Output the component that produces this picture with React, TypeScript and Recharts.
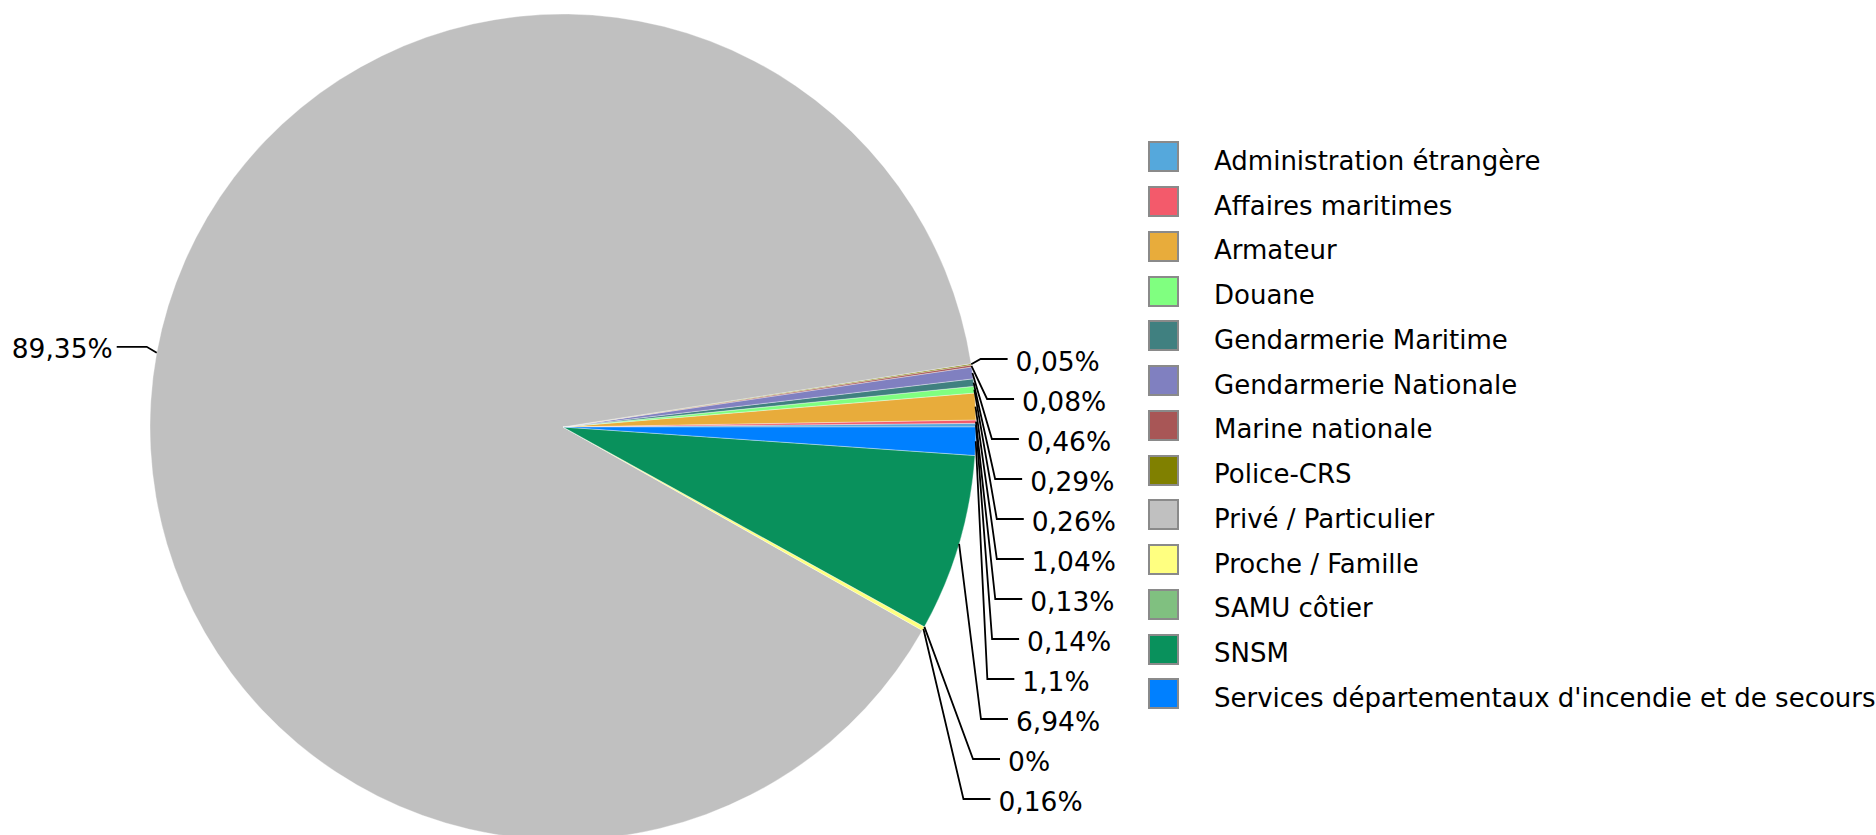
import React from 'react';
import { PieChart, Pie, Cell, Legend } from 'recharts';

const categories: string[] = [
  'Administration étrangère',
  'Affaires maritimes',
  'Armateur',
  'Douane',
  'Gendarmerie Maritime',
  'Gendarmerie Nationale',
  'Marine nationale',
  'Police-CRS',
  'Privé / Particulier',
  'Proche / Famille',
  'SAMU côtier',
  'SNSM',
  "Services départementaux d'incendie et de secours",
];

const shares: number[] = [0.14, 0.13, 1.04, 0.26, 0.29, 0.46, 0.08, 0.05, 89.35, 0.16, 0, 6.94, 1.1];

const colors: string[] = [
  '#55A8DC',
  '#F35A6B',
  '#E8AC3B',
  '#80FF80',
  '#408080',
  '#8080C0',
  '#A85656',
  '#808000',
  '#C0C0C0',
  '#FFFF80',
  '#80C080',
  '#09915C',
  '#0080FF',
];

const data = categories.map((name, i) => ({ name, value: shares[i] }));

const FONT = '"DejaVu Sans", Verdana, sans-serif';
const CX = 563;
const CY = 427;
const R = 413;
const LABEL_TOP = 359;
const LABEL_STEP = 40;
const RAD = Math.PI / 180;

// compute label rows for right-side slices (sorted top to bottom)
const total = shares.reduce((a, b) => a + b, 0);
const mids: number[] = [];
{
  let acc = 0;
  shares.forEach((v) => {
    const start = (acc / total) * 360;
    acc += v;
    const end = (acc / total) * 360;
    mids.push((start + end) / 2);
  });
}
const rightIdx = mids
  .map((m, i) => ({ i, m }))
  .filter((o) => Math.cos(o.m * RAD) > 0)
  .sort((a, b) => Math.sin(b.m * RAD) - Math.sin(a.m * RAD))
  .map((o) => o.i);
const rowOf: Record<number, number> = {};
rightIdx.forEach((idx, row) => {
  rowOf[idx] = row;
});

const fmt = (v: number) => `${String(v).replace('.', ',')}%`;

const renderLabel = (props: any) => {
  const { cx, cy, midAngle, outerRadius, index, value } = props;
  const ax = cx + outerRadius * Math.cos(-midAngle * RAD);
  const ay = cy + outerRadius * Math.sin(-midAngle * RAD);
  const text = fmt(value);
  if (rowOf[index] === undefined) {
    const ex = ax - 10;
    const ey = ay - 6;
    const lx = ax - 40;
    return (
      <g key={`l-${index}`}>
        <polyline points={`${ax},${ay} ${ex},${ey} ${lx},${ey}`} fill="none" stroke="#000" strokeWidth={1.8} />
        <text x={lx - 4} y={ey + 2} textAnchor="end" dominantBaseline="central" fontFamily={FONT} fontSize={26.5} fill="#000">
          {text}
        </text>
      </g>
    );
  }
  const row = rowOf[index];
  const ly = LABEL_TOP + row * LABEL_STEP;
  const ex = cx + outerRadius + 21 - 0.0005 * Math.pow(ly - (cy + 113), 2);
  const lx = ex + 27;
  return (
    <g key={`l-${index}`}>
      <polyline points={`${ax},${ay} ${ex},${ly} ${lx},${ly}`} fill="none" stroke="#000" strokeWidth={1.8} />
      <text x={lx + 8} y={ly + 2} textAnchor="start" dominantBaseline="central" fontFamily={FONT} fontSize={26.5} fill="#000">
        {text}
      </text>
    </g>
  );
};

const renderLegend = (props: any) => {
  const { payload } = props;
  return (
    <div style={{ fontFamily: FONT, fontSize: 26, color: '#000' }}>
      {(payload || []).map((entry: any, i: number) => (
        <div key={`leg-${i}`} style={{ display: 'flex', alignItems: 'center', height: 44.75, whiteSpace: 'nowrap' }}>
          <div
            style={{
              width: 27,
              height: 27,
              background: entry.color,
              border: '2px solid #8a8a8a',
              flex: '0 0 auto',
            }}
          />
          <span style={{ marginLeft: 35, position: 'relative', top: 4 }}>{entry.value}</span>
        </div>
      ))}
    </div>
  );
};

export default function App() {
  return (
    <div style={{ position: 'absolute', left: 0, top: 0, width: 1876, height: 835, background: '#fff', overflow: 'hidden' }}>
      <PieChart width={1876} height={835} margin={{ top: 0, right: 0, bottom: 0, left: 0 }}>
        <Pie
          data={data}
          dataKey="value"
          nameKey="name"
          cx={CX}
          cy={CY}
          outerRadius={R}
          startAngle={0}
          endAngle={360}
          isAnimationActive={false}
          label={renderLabel}
          labelLine={false}
          stroke="#ffffff"
          strokeOpacity={0.35}
          strokeWidth={1}
        >
          {data.map((d, i) => (
            <Cell key={`c-${i}`} fill={colors[i]} />
          ))}
        </Pie>
        <Legend
          layout="vertical"
          align="right"
          verticalAlign="top"
          content={renderLegend}
          wrapperStyle={{ left: 1148, top: 134.5, right: 'auto', bottom: 'auto', width: 720 }}
        />
      </PieChart>
    </div>
  );
}
